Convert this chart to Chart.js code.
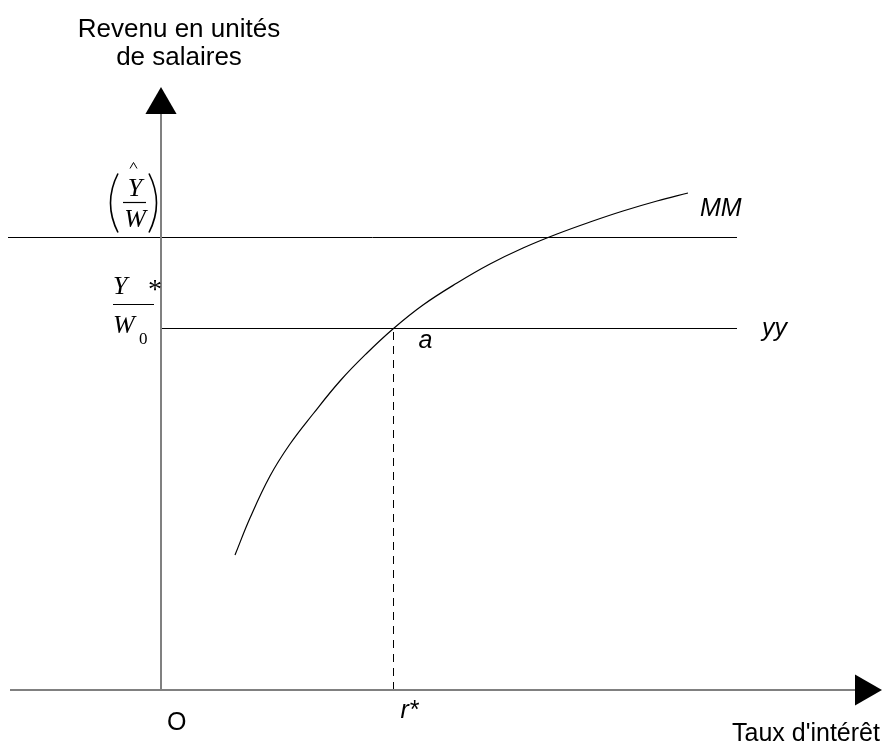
<!DOCTYPE html>
<html lang="fr">
<head>
    <meta charset="utf-8">
    <title>Courbe MM - revenu en unités de salaires</title>
    <script src="https://cdn.jsdelivr.net/npm/chart.js"></script>
    <style>
        html, body {
            margin: 0;
            padding: 0;
            background: #fff;
        }
        #wrap {
            width: 890px;
            height: 746px;
        }
    </style>
</head>
<body>
    <div id="wrap"><canvas id="chart" width="890" height="746"></canvas></div>

    <script>
        // courbe MM : taux d'intérêt -> revenu en unités de salaires
        const mmRate   = [7.4, 8.9, 10.9, 12.9, 15.2, 17.9, 20.5, 23.25, 26.2, 29.6, 32.9, 36.2, 39.6, 42.9, 46.2, 49.6, 52.7];
        const mmIncome = [13.5, 17.2, 21.4, 24.6, 27.6, 30.9, 33.6, 36.15, 38.5, 40.7, 42.6, 44.2, 45.6, 46.8, 47.9, 48.9, 49.7];

        // niveaux et point d'équilibre
        const rStar = 23.25;     // r*
        const yStar = 36.15;     // Y*/W0 (droite yy)
        const yHat = 45.25;      // (Y/W)^
        const lineEnd = 57.6;    // fin des droites horizontales
        const leftEnd = -15.3;   // début de la droite (Y/W)^ et de l'axe
        const xAxisEnd = 70.3;   // flèche de l'axe des taux
        const yAxisEnd = 58.5;   // flèche de l'axe des revenus

        const pts = (xs, ys) => xs.map((v, i) => ({ x: v, y: ys[i] }));

        // textes et fractions
        const labelsPlugin = {
            id: 'labels',
            afterDraw(chart) {
                const { ctx, scales: { x, y } } = chart;
                const px = v => x.getPixelForValue(v);
                const py = v => y.getPixelForValue(v);
                const sans = '"Liberation Sans", Arial, sans-serif';
                const serif = '"Liberation Serif", "Times New Roman", serif';
                ctx.save();
                ctx.fillStyle = '#000';
                ctx.strokeStyle = '#000';

                ctx.font = '26px ' + sans;
                ctx.textAlign = 'center';
                ctx.fillText('Revenu en unités', px(0) + 18, 37);
                ctx.fillText('de salaires', px(0) + 18, 65);
                ctx.font = '25px ' + sans;
                ctx.textAlign = 'left';
                ctx.fillText("Taux d'intérêt", 732, 741);
                ctx.fillText('O', px(0) + 6, py(0) + 40);

                ctx.font = 'italic 25px ' + sans;
                ctx.fillText('MM', 700, 216);
                ctx.fillText('yy', 762, py(yStar) + 7);
                ctx.fillText('a', px(rStar) + 25, py(yStar) + 19);
                ctx.fillText('r*', px(rStar) + 7, py(0) + 28);

                // (Y/W) chapeau
                const hy = py(yHat);
                ctx.font = 'italic 26px ' + serif;
                ctx.textAlign = 'center';
                ctx.fillText('Y', 135, hy - 42);
                ctx.fillText('W', 135, hy - 11);
                ctx.lineWidth = 1.2;
                ctx.beginPath();
                ctx.moveTo(123, hy - 35); ctx.lineTo(146, hy - 35);
                ctx.stroke();
                ctx.lineWidth = 1;
                ctx.beginPath();
                ctx.moveTo(130, hy - 69); ctx.lineTo(133.5, hy - 75); ctx.lineTo(137, hy - 69);
                ctx.stroke();
                ctx.lineWidth = 1.6;
                ctx.beginPath();
                ctx.moveTo(118, hy - 64);
                ctx.quadraticCurveTo(103, hy - 34.5, 118, hy - 5);
                ctx.moveTo(149, hy - 64);
                ctx.quadraticCurveTo(164, hy - 34.5, 149, hy - 5);
                ctx.stroke();

                // Y*/W0
                const sy = py(yStar);
                ctx.textAlign = 'left';
                ctx.fillText('Y', 113, sy - 35);
                ctx.fillText('W', 113, sy + 4);
                ctx.font = '28px ' + serif;
                ctx.fillText('*', 148, sy - 31);
                ctx.font = '17px ' + serif;
                ctx.fillText('0', 139, sy + 15);
                ctx.lineWidth = 1.2;
                ctx.beginPath();
                ctx.moveTo(113, sy - 24); ctx.lineTo(154, sy - 24);
                ctx.stroke();
                ctx.restore();
            }
        };

        const lineSet = (data, color, width, extra) => Object.assign({
            data: data,
            showLine: true,
            borderColor: color,
            borderWidth: width,
            pointRadius: 0,
            fill: false,
            clip: false
        }, extra || {});

        new Chart(document.getElementById('chart'), {
            type: 'scatter',
            data: {
                datasets: [
                    lineSet(pts([leftEnd + 0.2, xAxisEnd], [0, 0]), '#808080', 2, {
                        pointRadius: [0, 18],
                        pointStyle: 'triangle',
                        pointRotation: 90,
                        pointBackgroundColor: '#000',
                        pointBorderColor: '#000',
                        pointBorderWidth: 0
                    }),
                    lineSet(pts([0, 0], [0, yAxisEnd]), '#808080', 2, {
                        pointRadius: [0, 18],
                        pointStyle: 'triangle',
                        pointBackgroundColor: '#000',
                        pointBorderColor: '#000',
                        pointBorderWidth: 0
                    }),
                    lineSet(pts([leftEnd, lineEnd], [yHat, yHat]), '#000', 1),
                    lineSet(pts([0, lineEnd], [yStar, yStar]), '#000', 1),
                    lineSet(pts([rStar, rStar], [0, yStar]), '#000', 1, { borderDash: [8, 6] }),
                    lineSet(pts(mmRate, mmIncome), '#000', 1.2, { tension: 0.4 })
                ]
            },
            options: {
                responsive: false,
                animation: false,
                layout: { padding: 0, autoPadding: false },
                plugins: {
                    legend: { display: false },
                    tooltip: { enabled: false }
                },
                scales: {
                    x: { type: 'linear', display: false, min: -16.1, max: 72.9 },
                    y: { type: 'linear', display: false, min: -5.6, max: 69.0 }
                }
            },
            plugins: [labelsPlugin]
        });
    </script>
</body>
</html>
